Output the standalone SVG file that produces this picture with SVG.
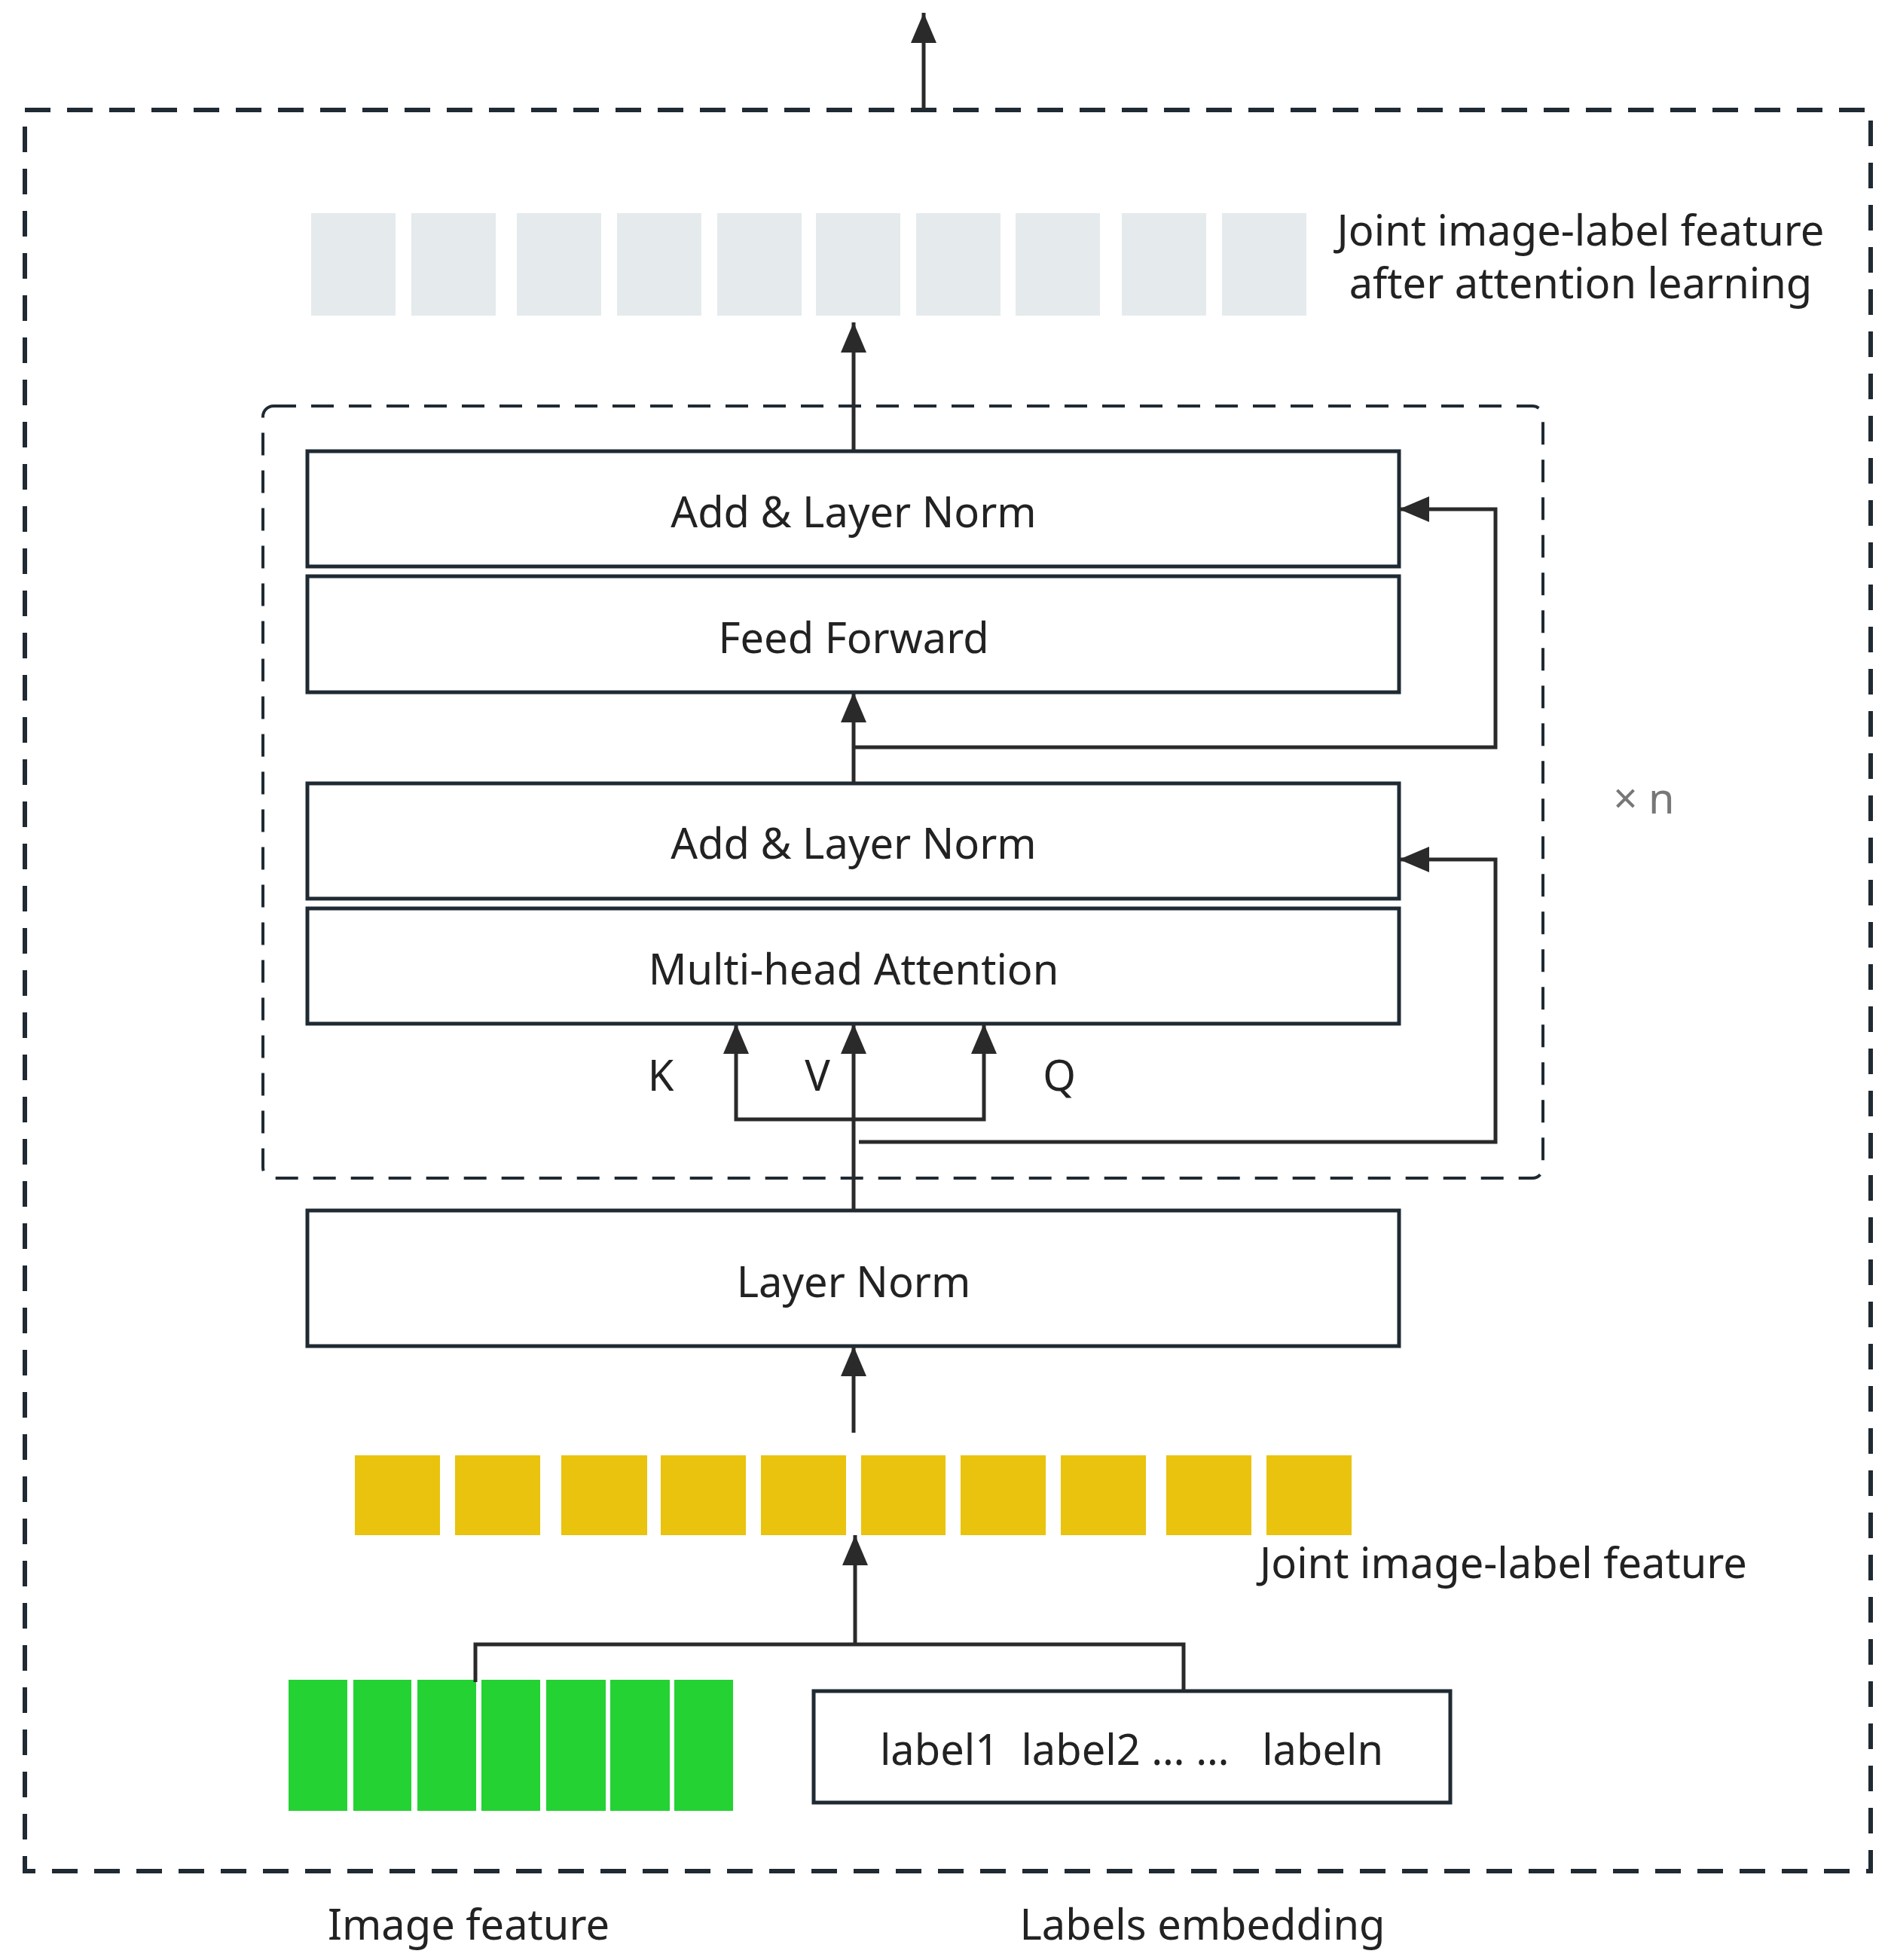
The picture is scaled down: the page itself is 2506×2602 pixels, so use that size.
<svg xmlns="http://www.w3.org/2000/svg" width="2506" height="2602" viewBox="0 0 2506 2602">
<style>
.box{fill:#fff;stroke:#1f2a33;stroke-width:5}
.t{font-family:"Noto Sans","Open Sans",sans-serif;font-size:56px;fill:#222;text-anchor:middle;dominant-baseline:central}
.ln{fill:none;stroke:#2a2a2a;stroke-width:5}
.g{fill:#e5eaed}.y{fill:#e9c30d}.gr{fill:#24d233}
</style>
<defs><marker id="a" viewBox="0 0 10 10" refX="9" refY="5" markerWidth="7" markerHeight="8" markerUnits="userSpaceOnUse" orient="auto" style="overflow:visible"><path d="M-40,-18 L0,5 L-40,28 Z" fill="#2a2a2a" transform="translate(10,0)"/></marker>
<marker id="b" viewBox="0 0 40 40" refX="40" refY="20" markerWidth="40" markerHeight="40" markerUnits="userSpaceOnUse" orient="auto"><path d="M0,3 L40,20 L0,37 Z" fill="#2a2a2a"/></marker></defs>
<rect x="33" y="146" width="2450" height="2338" fill="none" stroke="#1f2a33" stroke-width="6" stroke-dasharray="34,22"/>
<rect x="349" y="539" width="1699" height="1025" rx="14" fill="none" stroke="#1f2a33" stroke-width="4" stroke-dasharray="30,20"/>
<g id="out"><g class="g"><rect x="413" y="283" width="112" height="136"/><rect x="546" y="283" width="112" height="136"/><rect x="686" y="283" width="112" height="136"/><rect x="819" y="283" width="112" height="136"/><rect x="952" y="283" width="112" height="136"/><rect x="1083" y="283" width="112" height="136"/><rect x="1216" y="283" width="112" height="136"/><rect x="1348" y="283" width="112" height="136"/><rect x="1489" y="283" width="112" height="136"/><rect x="1622" y="283" width="112" height="136"/></g>
<text class="t" x="2098" y="304">Joint image-label feature</text><text class="t" x="2098" y="374">after attention learning</text></g>
<g id="aln2"><rect class="box" x="408" y="599" width="1449" height="153"/><text class="t" x="1133" y="678">Add &amp; Layer Norm</text></g>
<g id="ff"><rect class="box" x="408" y="765" width="1449" height="154"/><text class="t" x="1133" y="845">Feed Forward</text></g>
<g id="aln1"><rect class="box" x="408" y="1040" width="1449" height="153"/><text class="t" x="1133" y="1118">Add &amp; Layer Norm</text></g>
<g id="mha"><rect class="box" x="408" y="1206" width="1449" height="153"/><text class="t" x="1133" y="1285">Multi-head Attention</text></g>
<g id="ln"><rect class="box" x="408" y="1607" width="1449" height="180"/><text class="t" x="1133" y="1700">Layer Norm</text></g>
<g id="joint"><g class="y"><rect x="471" y="1932" width="113" height="106"/><rect x="604" y="1932" width="113" height="106"/><rect x="745" y="1932" width="114" height="106"/><rect x="877" y="1932" width="113" height="106"/><rect x="1010" y="1932" width="113" height="106"/><rect x="1143" y="1932" width="112" height="106"/><rect x="1275" y="1932" width="113" height="106"/><rect x="1408" y="1932" width="113" height="106"/><rect x="1548" y="1932" width="113" height="106"/><rect x="1681" y="1932" width="113" height="106"/></g>
<text class="t" x="1672" y="2073" style="text-anchor:start">Joint image-label feature</text></g>
<g id="img"><g class="gr"><rect x="383" y="2230" width="78" height="174"/><rect x="469" y="2230" width="77" height="174"/><rect x="554" y="2230" width="78" height="174"/><rect x="639" y="2230" width="78" height="174"/><rect x="725" y="2230" width="79" height="174"/><rect x="810" y="2230" width="79" height="174"/><rect x="895" y="2230" width="78" height="174"/></g>
<text class="t" x="622" y="2553">Image feature</text></g>
<g id="labels"><rect class="box" x="1080" y="2245" width="845" height="148"/><text class="t" x="1502" y="2321" xml:space="preserve">label1  label2 … …   labeln</text>
<text class="t" x="1596" y="2553">Labels embedding</text></g>
<g id="xn"><text class="t" x="2182" y="1058" style="fill:#777">× n</text></g>
<g id="connectors">
<path class="ln" d="M1226,146 V17" marker-end="url(#b)"/>
<path class="ln" d="M1133,599 V428" marker-end="url(#b)"/>
<path class="ln" d="M1133,1040 V919" marker-end="url(#b)"/>
<path class="ln" d="M1131,992 H1985 V676 H1857" marker-end="url(#b)"/>
<path class="ln" d="M1140,1516 H1985 V1141 H1857" marker-end="url(#b)"/>
<path class="ln" d="M1133,1607 V1359" marker-end="url(#b)"/>
<path class="ln" d="M1133,1486 H977 V1359" marker-end="url(#b)"/>
<path class="ln" d="M1133,1486 H1306 V1359" marker-end="url(#b)"/>
<path class="ln" d="M1133,1902 V1787" marker-end="url(#b)"/>
<path class="ln" d="M631,2233 V2183 H1571 V2245"/>
<path class="ln" d="M1135,2183 V2038" marker-end="url(#b)"/>
</g>
<text class="t" x="877" y="1426">K</text><text class="t" x="1085" y="1426">V</text><text class="t" x="1406" y="1426">Q</text>
</svg>
